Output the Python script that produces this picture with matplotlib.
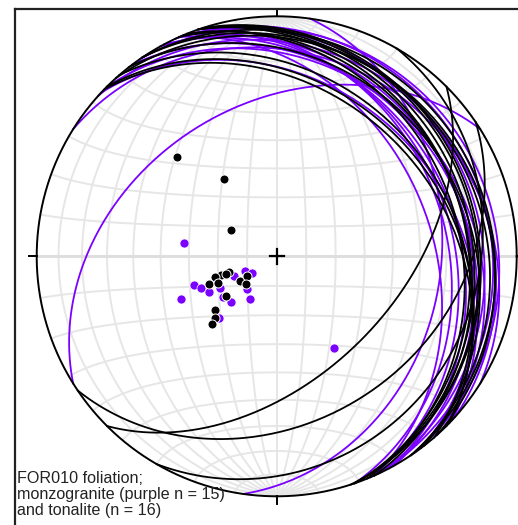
import numpy as np
import matplotlib.pyplot as plt

# === data: foliation planes as dip direction / dip (degrees) ===
# tonalite (black), n = 16
tonalite_dd = [135, 146, 120, 72, 71, 71, 68, 66, 71, 56, 56, 48, 52, 49, 45, 44]
tonalite_dip = [49, 32, 18, 17, 20, 22, 25, 22, 18, 15, 12, 14, 22, 28, 30, 32]
# monzogranite (purple), n = 15
monzo_dd = [98, 71, 67, 62, 66, 61, 53, 45, 66, 65, 55, 42, 32, 43, 328]
monzo_dip = [32, 30, 28, 26, 36, 22, 23, 22, 16, 12, 10, 15, 17, 29, 37]

label_text = "FOR010 foliation;\nmonzogranite (purple n = 15)\nand tonalite (n = 16)"

PURPLE = "#7a00ff"
GRID = "#e6e6e6"


def project(e, n, d):
    # lower hemisphere equal-area (Schmidt), unit primitive
    k = np.sqrt(1.0 / (1.0 + d))
    return e * k, n * k


def great_circle(dd, dip, num=200):
    dd, dip = np.radians(dd), np.radians(dip)
    t = np.linspace(0, np.pi, num)
    s = np.array([np.sin(dd - np.pi / 2), np.cos(dd - np.pi / 2), 0.0])
    v = np.array([np.cos(dip) * np.sin(dd), np.cos(dip) * np.cos(dd), np.sin(dip)])
    pts = np.outer(np.cos(t), s) + np.outer(np.sin(t), v)
    return project(pts[:, 0], pts[:, 1], np.clip(pts[:, 2], 0, 1))


def pole(dd, dip):
    dd, dip = np.radians(np.asarray(dd)), np.radians(np.asarray(dip))
    e = -np.sin(dip) * np.sin(dd)
    n = -np.sin(dip) * np.cos(dd)
    d = np.cos(dip)
    return project(e, n, d)


# === figure: 518 x 525 px ===
W, H = 518, 525
cx, cy, R = 276.7, 256.3, 240.0
fig = plt.figure(figsize=(W / 100, H / 100), dpi=100)
ax = fig.add_axes([0, 0, 1, 1])
ax.set_xlim(-cx / R, (W - cx) / R)
ax.set_ylim(-(H - cy) / R, cy / R)
ax.axis("off")

# frame (left and top edges visible only)
fig.add_artist(plt.Line2D([14.5 / W, 14.5 / W], [0, 1 - 8.7 / H], color="#222222", lw=1.6))
fig.add_artist(plt.Line2D([14.5 / W, 1], [1 - 8.7 / H, 1 - 8.7 / H], color="#222222", lw=1.6))

# === net grid (10 degree Schmidt net) ===
for dip in range(10, 90, 10):
    for dd in (90, 270):
        x, y = great_circle(dd, dip)
        ax.plot(x, y, color=GRID, lw=1.4, zorder=1)
phi = np.linspace(0, np.pi, 200)
for a in range(10, 180, 10):
    al = np.radians(a)
    e = np.sin(al) * np.cos(phi)
    n = np.full_like(phi, np.cos(al))
    d = np.sin(al) * np.sin(phi)
    x, y = project(e, n, d)
    ax.plot(x, y, color=GRID, lw=1.4, zorder=1)
ax.plot([-1, 1], [0, 0], color="#dedede", lw=2.2, zorder=1)
ax.plot([0, 0], [-1, 1], color=GRID, lw=1.4, zorder=1)

# === great circles ===
for dd, dip in zip(monzo_dd, monzo_dip):
    x, y = great_circle(dd, dip)
    ax.plot(x, y, color=PURPLE, lw=1.3, zorder=3)
for dd, dip in zip(tonalite_dd, tonalite_dip):
    x, y = great_circle(dd, dip)
    ax.plot(x, y, color="black", lw=1.3, zorder=3)

# === poles ===
px, py = pole(monzo_dd, monzo_dip)
ax.plot(px, py, "o", color=PURPLE, ms=6.5, mec="white", mew=0.5, zorder=5)
px, py = pole(tonalite_dd, tonalite_dip)
ax.plot(px, py, "o", color="black", ms=6.5, mec="white", mew=0.7, zorder=6)

# primitive circle, ticks, centre cross
th = np.linspace(0, 2 * np.pi, 400)
ax.plot(np.cos(th), np.sin(th), color="black", lw=1.4, zorder=4)
tk = 0.03
for ang in (0, 90, 180, 270):
    a = np.radians(ang)
    ax.plot([np.sin(a), (1 + tk) * np.sin(a)], [np.cos(a), (1 + tk) * np.cos(a)],
            color="black", lw=1.4, zorder=4)
ax.plot([-0.03, 0.03], [0, 0], color="black", lw=1.6, zorder=4)
ax.plot([0, 0], [-0.03, 0.03], color="black", lw=1.6, zorder=4)

fig.text(17 / W, 1 - 471 / H, label_text, ha="left", va="top", fontsize=11.6,
         family="Liberation Sans", linespacing=1.1, color="#222222")

fig.savefig("out.png", dpi=100)
